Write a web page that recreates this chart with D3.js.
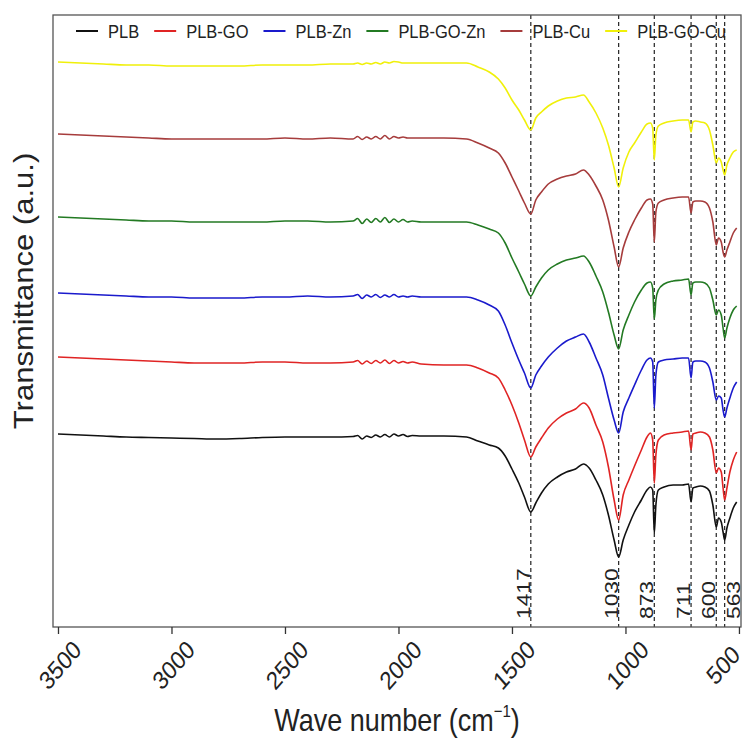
<!DOCTYPE html>
<html>
<head>
<meta charset="utf-8">
<script src="https://cdn.jsdelivr.net/npm/d3@7"></script>
<style>
  body { margin: 0; background: #fff; }
  svg { display: block; font-family: "Liberation Sans", Arial, sans-serif; }
</style>
</head>
<body>
<svg id="chart" width="748" height="738"></svg>
<script>
// FTIR spectra, values (arbitrary units, stacked)
var wavenumbers = [3500, 3400, 3300, 3200, 3100, 3000, 2900, 2800, 2700, 2600, 2500, 2400, 2300,
  2200, 2180, 2160, 2140, 2120, 2100, 2080, 2060, 2040, 2020, 2000, 1980, 1960, 1940,
  1900, 1800, 1700, 1650, 1600,
  1560, 1530, 1500, 1470, 1445, 1417,
  1395, 1370, 1340, 1300, 1260, 1220, 1185,
  1160, 1130, 1100, 1075, 1050, 1030,
  1010, 985, 960, 930, 905, 890, 880, 873, 866, 855,
  830, 790, 750, 722, 711, 703, 690, 670, 650, 630, 615,
  600, 590, 578, 570, 563, 553, 540, 525, 510];

var plb = [193, 192, 191, 190, 189.5, 189, 188.5, 188, 188.5, 189.5, 190, 190, 190,
  190.5, 191.5, 188, 191, 189.5, 192, 190, 192.5, 190, 193, 191, 192.5, 190.5, 191.5,
  191, 191, 190, 186, 182,
  179, 171, 158, 144, 130, 115,
  124, 134, 143, 150, 155, 158, 163,
  159, 147, 132, 112, 87, 70,
  87, 102, 115, 127, 137, 140, 137, 94, 122, 137,
  140, 142, 142, 143, 125, 139, 140, 141, 140, 136, 122,
  100, 109, 105, 95, 87, 99, 109, 119, 125];

var plbGo = [270, 269, 268, 267, 266, 265, 264, 264, 264, 265, 265, 264, 264,
  265, 266.5, 263, 266, 263.5, 266.5, 264, 267, 263.5, 266.5, 264, 265.5, 264, 265,
  263, 262, 262, 259, 254,
  249, 237, 222, 204, 187, 170,
  180, 189, 199, 208, 214, 218, 224,
  219, 202, 185, 160, 127, 107,
  132, 147, 161, 177, 190, 194, 187, 144, 172, 187,
  192, 194, 195, 196, 177, 193, 194, 195, 194, 190, 177,
  154, 159, 155, 139, 127, 139, 155, 167, 175];

var plbZn = [334, 333, 332, 331, 330, 330, 329, 329, 329, 330, 330, 331, 330,
  331, 332.5, 328.5, 332, 330, 332.5, 329.5, 332, 330, 332.5, 330, 331, 330, 331,
  330, 330, 330, 327, 322,
  316, 302, 284, 267, 254, 239,
  252, 261, 270, 279, 286, 290, 293,
  285, 269, 252, 229, 207, 194,
  215, 229, 242, 257, 267, 269, 265, 219, 252, 265,
  267, 268, 269, 269, 249, 265, 266, 266, 265, 259, 245,
  227, 231, 229, 217, 210, 219, 229, 239, 245];

var plbGoZn = [410, 409, 408, 407, 406, 406, 405, 405, 405, 405, 406, 406, 405,
  406, 408.5, 403.5, 408, 404.5, 408.5, 405, 409.5, 404.5, 408, 405, 407.5, 405, 406,
  405, 405, 405, 402, 398,
  394, 384, 369, 355, 343, 331,
  340, 349, 357, 363, 367, 369, 371,
  365, 351, 335, 315, 292, 278,
  297, 312, 325, 337, 344, 345, 339, 308, 327, 337,
  343, 346, 347, 348, 332, 344, 345, 345, 344, 339, 327,
  312, 317, 312, 299, 289, 299, 309, 317, 321];

var plbCu = [493, 492, 491, 490, 489, 488, 488, 488, 488, 488, 489, 488, 489,
  488, 490.5, 487.5, 490, 488, 490.5, 488, 491.5, 488, 490.5, 489, 490, 489, 489,
  489, 489, 488, 484, 479,
  474, 464, 450, 436, 424, 413,
  427, 435, 443, 448, 451, 453, 457,
  452, 441, 427, 407, 380, 360,
  379, 395, 407, 419, 427, 428, 423, 385, 415, 424,
  427, 429, 430, 430, 414, 425, 426, 426, 425, 419, 405,
  382, 389, 385, 375, 370, 377, 385, 394, 399];

var plbGoCu = [565, 564, 563, 562, 562, 561, 561, 561, 561, 562, 562, 562, 563,
  563, 564, 562.5, 564, 563, 564.5, 563, 565, 564, 565.5, 565, 564, 564, 564,
  564, 564, 564, 560, 555,
  548, 539, 527, 517, 507, 497,
  509, 515, 521, 526, 529, 530, 532,
  525, 514, 499, 482, 459, 440,
  459, 475, 484, 495, 503, 504, 499, 467, 492, 501,
  504, 506, 507, 507, 495, 505, 506, 505, 504, 497, 482,
  464, 469, 465, 457, 452, 462, 469, 475, 477];

var seriesNames = ["PLB", "PLB-GO", "PLB-Zn", "PLB-GO-Zn", "PLB-Cu", "PLB-GO-Cu"];
var seriesValues = [plb, plbGo, plbZn, plbGoZn, plbCu, plbGoCu];
var seriesColors = ["#111111", "#e02424", "#1a1acc", "#237a23", "#a63c3c", "#f0f00a"];

var peakMarks = [1417, 1030, 873, 711, 600, 563];
var xTicks = [3500, 3000, 2500, 2000, 1500, 1000, 500];

var W = 748;
var plotL = 53, plotR = 741, plotT = 15, plotB = 627;
var stretch = 1.15;

var svg = d3.select("#chart");

var x = d3.scaleLinear().domain([3522, 491]).range([plotL, plotR]);
var y = d3.scaleLinear().domain([0, 612]).range([plotB, plotT]);

// peak guide lines
svg.append("g")
  .selectAll("line")
  .data(peakMarks)
  .join("line")
  .attr("x1", function (d) { return x(d); })
  .attr("x2", function (d) { return x(d); })
  .attr("y1", plotT)
  .attr("y2", plotB)
  .attr("stroke", "#222")
  .attr("stroke-width", 1.2)
  .attr("stroke-dasharray", "4,3");

// spectra
var line = d3.line()
  .x(function (d) { return x(d[0]); })
  .y(function (d) { return y(d[1]); })
  .curve(d3.curveMonotoneX);

svg.append("g")
  .selectAll("path")
  .data(seriesValues)
  .join("path")
  .attr("fill", "none")
  .attr("stroke", function (d, i) { return seriesColors[i]; })
  .attr("stroke-width", 1.6)
  .attr("stroke-linejoin", "round")
  .attr("d", function (vals) {
    return line(wavenumbers.map(function (w, j) { return [w, vals[j]]; }));
  });

// peak labels
svg.append("g")
  .selectAll("text")
  .data(peakMarks)
  .join("text")
  .attr("transform", function (d, i) {
    var px = i === peakMarks.length - 1 ? x(d) + 15 : x(d) - 1;
    return "translate(" + px + "," + 619 + ") scale(1,1.2) rotate(-90)";
  })
  .attr("font-size", 19)
  .attr("fill", "#222")
  .text(function (d) { return d; });

// frame
svg.append("rect")
  .attr("x", plotL).attr("y", plotT)
  .attr("width", plotR - plotL).attr("height", plotB - plotT)
  .attr("fill", "none")
  .attr("stroke", "#555")
  .attr("stroke-width", 1.3);

// x axis
var xAxis = svg.append("g")
  .attr("transform", "translate(0," + plotB + ")")
  .call(d3.axisBottom(x).tickValues(xTicks).tickSize(7).tickSizeOuter(0).tickFormat(""));
xAxis.select(".domain").remove();
xAxis.selectAll(".tick line").attr("stroke", "#333").attr("stroke-width", 1.3);

svg.append("g")
  .selectAll("text")
  .data(xTicks)
  .join("text")
  .attr("transform", function (d) {
    var px = Math.min(x(d) + 2, W - 25);
    return "translate(" + px + "," + (plotB + 38) + ") scale(1," + stretch + ") rotate(-45)";
  })
  .attr("text-anchor", "middle")
  .attr("dy", "0.35em")
  .attr("font-size", 22)
  .attr("fill", "#222")
  .text(function (d) { return d; });

// axis titles
var xt = svg.append("text")
  .attr("transform", "translate(" + (plotL + plotR) / 2 + ",731) scale(1," + stretch + ")")
  .attr("text-anchor", "middle")
  .attr("font-size", 27)
  .attr("fill", "#222");
xt.append("tspan").text("Wave number (cm");
xt.append("tspan").attr("dy", -12).attr("font-size", 15).text("\u22121");
xt.append("tspan").attr("dy", 12).text(")");

svg.append("text")
  .attr("transform", "translate(33,291) scale(1," + stretch + ") rotate(-90)")
  .attr("text-anchor", "middle")
  .attr("font-size", 27)
  .attr("fill", "#222")
  .text("Transmittance (a.u.)");

// legend
var legend = svg.append("g").attr("transform", "translate(0,31)");
var lx = 76;
seriesNames.forEach(function (name, i) {
  legend.append("line")
    .attr("x1", lx).attr("x2", lx + 22)
    .attr("y1", 0).attr("y2", 0)
    .attr("stroke", seriesColors[i])
    .attr("stroke-width", 2);
  var t = legend.append("text")
    .attr("transform", "translate(" + (lx + 32) + ",0) scale(1," + stretch + ")")
    .attr("dy", "0.35em")
    .attr("font-size", 16.5)
    .attr("fill", "#222")
    .text(name);
  lx += 32 + t.node().getComputedTextLength() + 15;
});
</script>
</body>
</html>
